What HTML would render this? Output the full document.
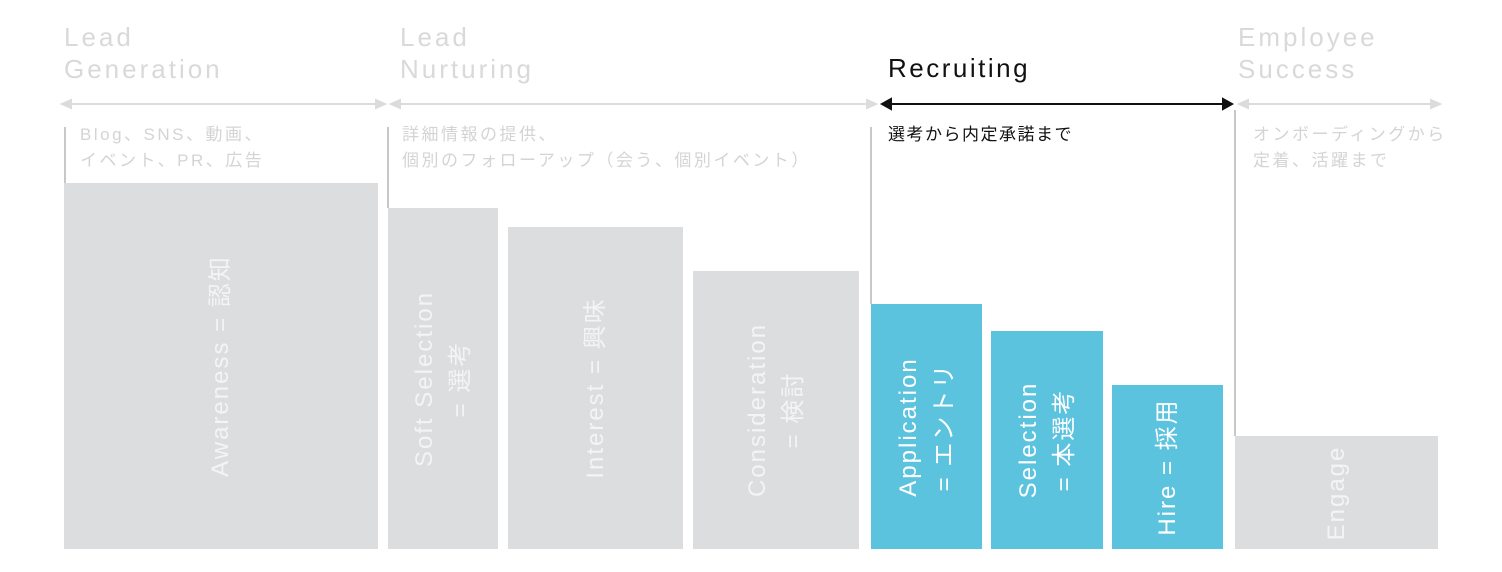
<!DOCTYPE html>
<html><head><meta charset="utf-8"><style>
body{margin:0;width:1502px;height:572px;background:#fff;position:relative;overflow:hidden;font-family:"Liberation Sans","Noto Sans CJK JP",sans-serif}
.a{position:absolute}
.h{color:#d9d9d9;font-size:26px;line-height:32px;letter-spacing:3px}
.s{color:#d4d4d4;font-size:17px;line-height:26px;letter-spacing:2.5px}
.b{position:absolute;background:#dcdddf;bottom:23px}
.c{background:#5bc3dd}
.vl{position:absolute;width:2px;background:#c8c8c8}
.t{position:absolute;left:50%;top:50%;transform:translate(-50%,-50%) rotate(-90deg);white-space:nowrap;color:#fff;font-size:24px;line-height:36px;letter-spacing:2px;text-align:center}
.g .t{color:#f4f4f4}
</style></head><body>
<div class="a h" style="left:64px;top:21px">Lead<br>Generation</div>
<div class="a h" style="left:400px;top:21px">Lead<br>Nurturing</div>
<div class="a" style="left:888px;top:53px;font-size:26px;letter-spacing:2.5px;color:#111">Recruiting</div>
<div class="a h" style="left:1238px;top:21px">Employee<br>Success</div>

<svg class="a" style="left:0;top:0" width="1502" height="572">
<g stroke="#dcdcdc" stroke-width="2" fill="#dcdcdc">
<line x1="66" y1="104" x2="381" y2="104"/><polygon points="62,104 71,100 71,108"/><polygon points="385,104 376,100 376,108"/>
<line x1="395" y1="104" x2="872" y2="104"/><polygon points="391,104 400,100 400,108"/><polygon points="876,104 867,100 867,108"/>
<line x1="1243" y1="104" x2="1436" y2="104"/><polygon points="1239,104 1248,100 1248,108"/><polygon points="1440,104 1431,100 1431,108"/>
</g>
<g stroke="#111" stroke-width="2" fill="#111">
<line x1="886" y1="104" x2="1228" y2="104"/><polygon points="882,104 891,99 891,109"/><polygon points="1232,104 1223,99 1223,109"/>
</g>
</svg>

<div class="a s" style="left:80px;top:122px">Blog、SNS、動画、<br>イベント、PR、広告</div>
<div class="a s" style="left:402px;top:122px">詳細情報の提供、<br>個別のフォローアップ（会う、個別イベント）</div>
<div class="a" style="left:888px;top:120px;font-size:17px;letter-spacing:1.5px;color:#111">選考から内定承諾まで</div>
<div class="a s" style="left:1253px;top:122px">オンボーディングから<br>定着、活躍まで</div>

<div class="vl" style="left:64px;top:127px;height:56px"></div>
<div class="vl" style="left:387px;top:127px;height:81px"></div>
<div class="vl" style="left:870px;top:127px;height:177px"></div>
<div class="vl" style="left:1234px;top:110px;height:326px"></div>

<div class="b g" style="left:64px;width:314px;top:183px"><div class="t">Awareness = 認知</div></div>
<div class="b g" style="left:388px;width:110px;top:208px"><div class="t">Soft Selection<br>= 選考</div></div>
<div class="b g" style="left:508px;width:175px;top:227px"><div class="t">Interest = 興味</div></div>
<div class="b g" style="left:693px;width:166px;top:271px"><div class="t">Consideration<br>= 検討</div></div>
<div class="b c" style="left:871px;width:111px;top:304px"><div class="t">Application<br>= エントリ</div></div>
<div class="b c" style="left:991px;width:112px;top:331px"><div class="t">Selection<br>= 本選考</div></div>
<div class="b c" style="left:1112px;width:111px;top:385px"><div class="t">Hire = 採用</div></div>
<div class="b g" style="left:1235px;width:203px;top:436px"><div class="t">Engage</div></div>
</body></html>
